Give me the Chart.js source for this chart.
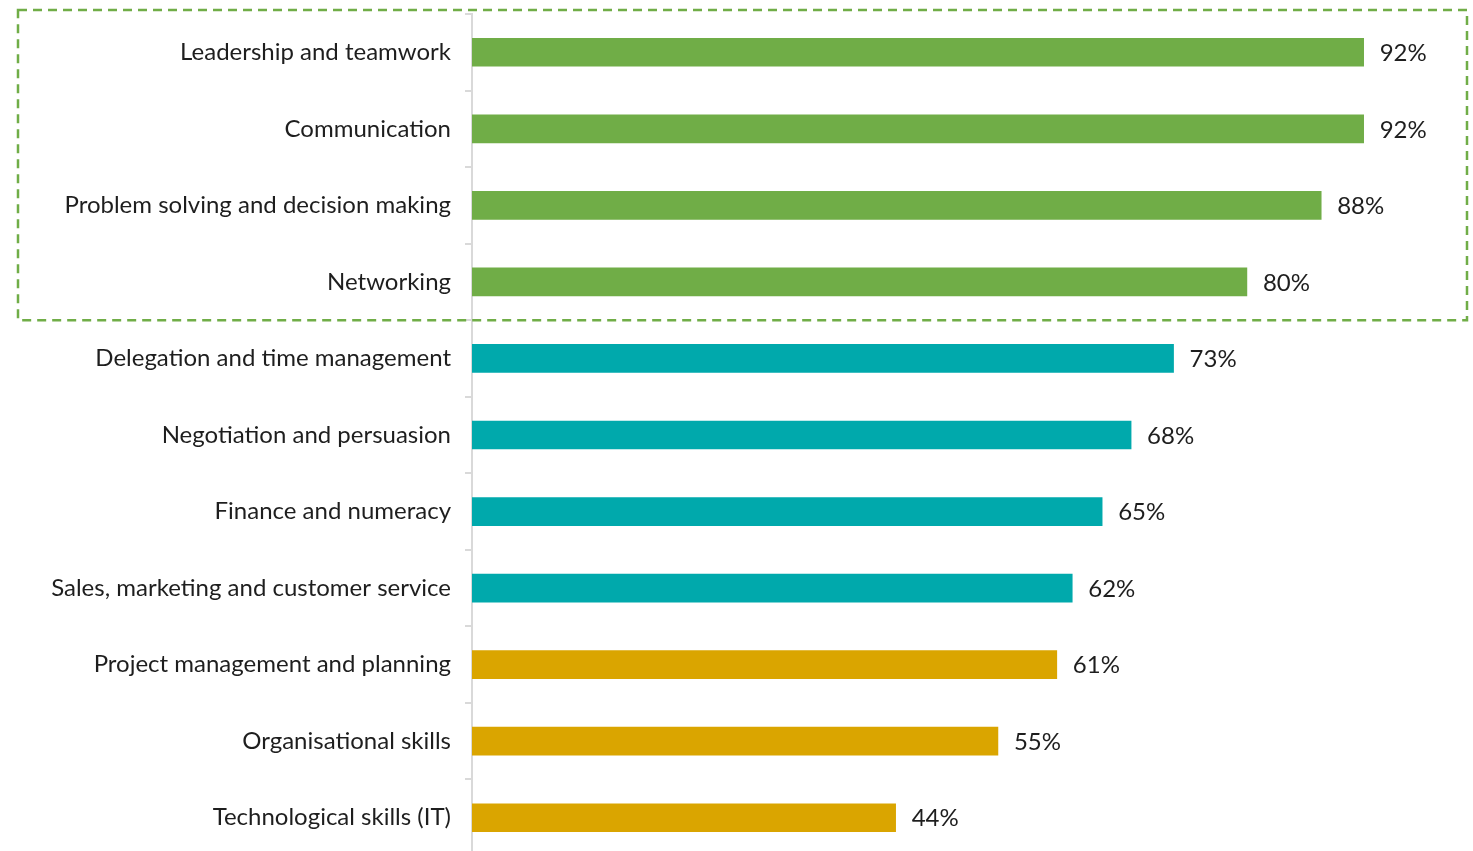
<script src="https://cdn.jsdelivr.net/npm/chart.js"></script>

<style>
  html, body { margin: 0; padding: 0; background: #fff; overflow: hidden; }
  #wrap { width: 1473px; height: 856px; position: relative; }
</style>

<div id="wrap">
  <canvas id="skillsChart"></canvas>
</div>

<script>
// Data
const skills = [
  'Leadership and teamwork',
  'Communication',
  'Problem solving and decision making',
  'Networking',
  'Delegation and time management',
  'Negotiation and persuasion',
  'Finance and numeracy',
  'Sales, marketing and customer service',
  'Project management and planning',
  'Organisational skills',
  'Technological skills (IT)'
];
const shares = [92.4, 92.4, 88.0, 80.3, 72.7, 68.3, 65.3, 62.2, 60.6, 54.5, 43.9];
const groups = ['top', 'top', 'top', 'top', 'mid', 'mid', 'mid', 'mid', 'low', 'low', 'low'];
const groupColours = { top: '#70AD47', mid: '#00A9AC', low: '#DAA500' };

const FONT = 'Lato, "Open Sans", sans-serif';

// value labels to the right of each bar
const valueLabels = {
  id: 'valueLabels',
  afterDatasetsDraw(chart) {
    const ctx = chart.ctx;
    const meta = chart.getDatasetMeta(0);
    ctx.save();
    ctx.font = '24px ' + FONT;
    ctx.fillStyle = '#1e1e1e';
    ctx.textAlign = 'left';
    ctx.textBaseline = 'middle';
    meta.data.forEach(function (bar, i) {
      ctx.fillText(Math.round(shares[i]) + '%', bar.x + 16, bar.y + 1);
    });
    ctx.restore();
  }
};

// dashed box round the top four skills
const topBox = {
  id: 'topBox',
  afterDraw(chart) {
    const y = chart.scales.y;
    const last = groups.lastIndexOf('top');
    const bottom = (y.getPixelForValue(last) + y.getPixelForValue(last + 1)) / 2;
    const ctx = chart.ctx;
    ctx.save();
    ctx.strokeStyle = '#70AD47';
    ctx.lineWidth = 2.5;
    ctx.setLineDash([9, 6]);
    ctx.strokeRect(18, 10, 1467 - 18, bottom - 10);
    ctx.restore();
  }
};

const config = {
  type: 'bar',
  data: {
    labels: skills,
    datasets: [{
      data: shares,
      backgroundColor: groups.map(g => groupColours[g]),
      barThickness: 28
    }]
  },
  options: {
    indexAxis: 'y',
    responsive: true,
    maintainAspectRatio: false,
    animation: false,
    layout: { padding: { top: 14, right: 36, bottom: 0, left: 0 } },
    plugins: {
      legend: { display: false },
      tooltip: { enabled: false }
    },
    scales: {
      x: {
        display: false,
        min: 0,
        max: 100
      },
      y: {
        afterFit(scale) {
          scale.width = 472;
          scale.paddingTop = 0;
          scale.paddingBottom = 0;
        },
        grid: {
          drawOnChartArea: false,
          drawTicks: true,
          tickLength: 7,
          color: '#d9d9d9',
          lineWidth: 2,
          offset: true
        },
        border: { color: '#d9d9d9', width: 2 },
        ticks: {
          padding: 14,
          color: '#1e1e1e',
          font: { family: FONT, size: 24 }
        }
      }
    }
  },
  plugins: [valueLabels, topBox]
};

var skillsChart = new Chart(document.getElementById('skillsChart'), config);
</script>
